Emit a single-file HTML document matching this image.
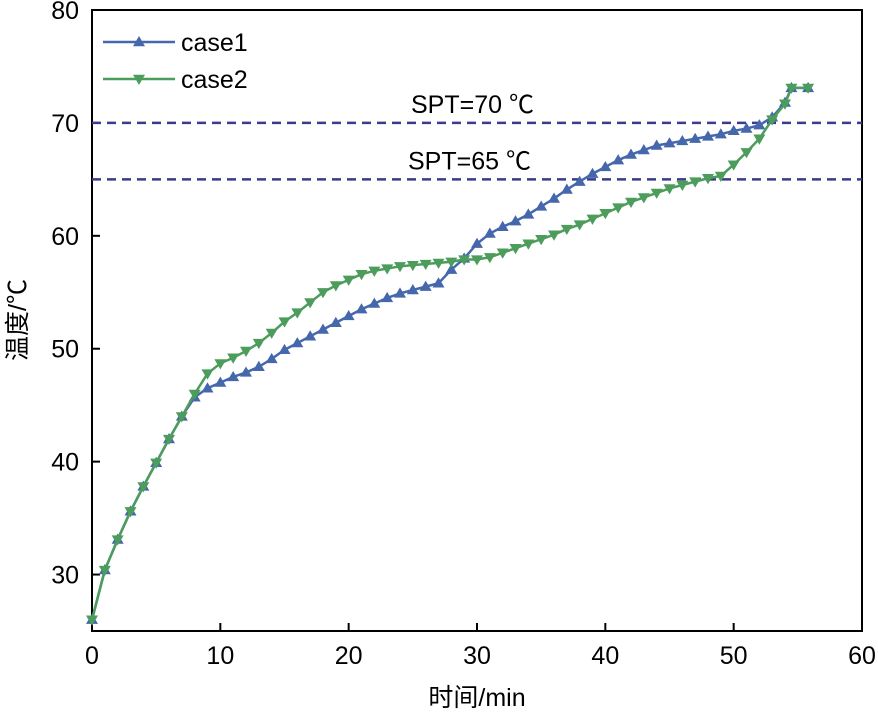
<!DOCTYPE html>
<html><head><meta charset="utf-8"><style>
body{margin:0;background:#fff;}
svg{display:block;font-family:"Liberation Sans","Noto Sans CJK SC",sans-serif;}
</style></head><body>
<svg id="chart" width="878" height="715" viewBox="0 0 878 715" xmlns="http://www.w3.org/2000/svg"></svg>
<script>
const xTicks=[0,10,20,30,40,50,60];
const yTicks=[30,40,50,60,70,80];
const times=[0,1,2,3,4,5,6,7,8,9,10,11,12,13,14,15,16,17,18,19,20,21,22,23,24,25,26,27,28,29,30,31,32,33,34,35,36,37,38,39,40,41,42,43,44,45,46,47,48,49,50,51,52,53,54,54.5,55.8];
const case1=[26,30.4,33.1,35.6,37.8,39.9,42.0,44.0,45.7,46.5,47.0,47.5,47.9,48.4,49.1,49.9,50.5,51.1,51.7,52.3,52.9,53.5,54.0,54.5,54.9,55.2,55.5,55.8,57.0,58.0,59.3,60.2,60.8,61.3,61.9,62.6,63.3,64.1,64.8,65.5,66.1,66.7,67.2,67.6,68.0,68.2,68.4,68.6,68.8,69.0,69.3,69.5,69.8,70.5,71.8,73.1,73.1];
const case2=[26,30.4,33.1,35.6,37.8,39.9,42.0,44.0,46.0,47.8,48.7,49.2,49.8,50.5,51.4,52.4,53.2,54.1,55.0,55.6,56.1,56.6,56.9,57.1,57.3,57.4,57.5,57.6,57.7,57.9,57.9,58.1,58.5,58.9,59.3,59.7,60.1,60.6,61.0,61.5,62.0,62.5,63.0,63.4,63.8,64.2,64.5,64.8,65.1,65.3,66.3,67.4,68.6,70.3,71.7,73.1,73.1];
const spt=[70,65];
const sptLabels=["SPT=70 ℃","SPT=65 ℃"];
const L=92,R=862,T=10,B=631;
const xs=t=>L+(t-0)/60*(R-L);
const ys=v=>B-(v-25)/55*(B-T);
const svg=document.getElementById('chart');
const NS='http://www.w3.org/2000/svg';
function mk(tag,attrs,parent){const e=document.createElementNS(NS,tag);for(const k in attrs)e.setAttribute(k,attrs[k]);(parent||svg).appendChild(e);return e;}
let e=mk('rect',{x:L,y:T,width:R-L,height:B-T,fill:'none',stroke:'#000','stroke-width':2});


xTicks.forEach(t=>{
  let l=mk('line',{x1:xs(t),x2:xs(t),y1:B,y2:B-8,stroke:'#000','stroke-width':2});
  
  
  let tx=mk('text',{x:xs(t),y:B+33,'text-anchor':'middle','font-size':25});
  tx.textContent=t;
  
  
});
yTicks.forEach(v=>{
  let l=mk('line',{x1:L,x2:L+8,y1:ys(v),y2:ys(v),stroke:'#000','stroke-width':2});
  
  
  let tx=mk('text',{x:L-13,y:ys(v)+9,'text-anchor':'end','font-size':25});
  tx.textContent=v;
  
  
});
spt.forEach((v,i)=>{
  let l=mk('line',{x1:L,x2:R,y1:ys(v),y2:ys(v),stroke:'#3b3b8c','stroke-width':2.5,'stroke-dasharray':'9,6'});
  
  
  let tx=mk('text',{x:i===0?411:408,y:ys(v)-10,'font-size':25});
  tx.textContent=sptLabels[i];
  
  
});
function tri(x,y,up,color,parent){
  const s=6;
  const pts=up?`${x},${y-s} ${x-s},${y+s*0.7} ${x+s},${y+s*0.7}`:`${x},${y+s} ${x-s},${y-s*0.7} ${x+s},${y-s*0.7}`;
  return mk('polygon',{points:pts,fill:color},parent);
}
function series(vals,color,up,name){
  const g=mk('g',{});
  
  
  let p=mk('polyline',{points:times.map((t,i)=>xs(t)+','+ys(vals[i])).join(' '),fill:'none',stroke:color,'stroke-width':2.5},g);
  
  
  times.forEach((t,i)=>{
    let m=tri(xs(t),ys(vals[i]),up,color,g);
    
    
  });
}
series(case1,'#4567ab',true,'case1-series');
series(case2,'#4c9c5c',false,'case2-series');
[['case1','#4567ab',true,42],['case2','#4c9c5c',false,79]].forEach(([n,c,up,y])=>{
  const g=mk('g',{});
  
  
  mk('line',{x1:103,x2:175,y1:y,y2:y,stroke:c,'stroke-width':2.5},g);
  tri(139,y,up,c,g);
  let tx=mk('text',{x:181,y:y+9,'font-size':25},g);
  tx.textContent=n;
});
let xt=mk('text',{x:477,y:706,'text-anchor':'middle','font-size':25});
xt.textContent='时间/min';


let yt=mk('text',{x:0,y:0,'text-anchor':'middle','font-size':25,transform:'translate(26,320) rotate(-90)'});
yt.textContent='温度/℃';


</script>
</body></html>
